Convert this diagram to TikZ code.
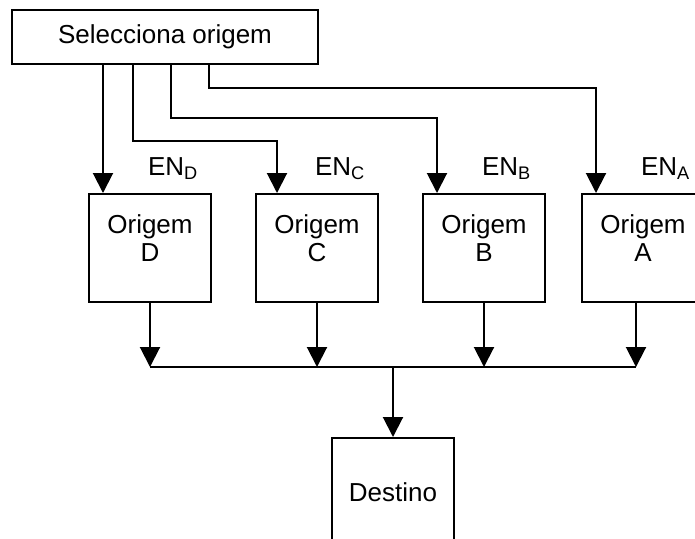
\documentclass[tikz,border=0pt]{standalone}
\usepackage{fontspec}
\setmainfont{Liberation Sans}
\usetikzlibrary{arrows.meta,positioning}

\tikzset{
  caixa/.style={draw, line width=1pt, minimum width=61pt, minimum height=54pt, inner sep=0pt},
  seta/.style={line width=1pt, -{Triangle[length=10pt,width=10pt]}},
  liga/.style={line width=1pt},
  rotulo/.style={font=\fontsize{13}{14}\selectfont, align=center},
}

\begin{document}
\begin{tikzpicture}[x=0.5pt,y=-0.5pt]
  \useasboundingbox (0,0) rectangle (695,538);
  \clip (0,0) rectangle (695,538);
  % bloco de seleccao
  \node[caixa, rotulo, minimum width=153pt, minimum height=27pt] (sel) at (165,37) {Selecciona origem};
  % origens D, C, B, A
  \foreach \n/\x in {d/150,c/317,b/484,a/643}
    \node[caixa, anchor=north] (f\n) at (\x,193) {};
  \foreach \n/\l in {d/D,c/C,b/B,a/A}{
    \node[rotulo, below=7.5pt of f\n.north] (t\n) {Origem\\\l};
    \node[rotulo, anchor=base west] (en\n) at ([shift={(-4.5pt,9pt)}]f\n.north) {EN\textsubscript{\l}};
  }
  \node[caixa, rotulo, anchor=north] (dest) at (393,437) {Destino};

  % sinais de enable
  \draw[seta] ([xshift=46pt]sel.south west) -- ([xshift=46pt]sel.south west |- fd.north);
  \draw[seta] ([xshift=61pt]sel.south west) -- ++(0,76) -| ([xshift=11pt]fc.north west);
  \draw[seta] ([xshift=80pt]sel.south west) -- ++(0,53) -| ([xshift=7.5pt]fb.north west);
  \draw[seta] ([xshift=99pt]sel.south west) -- ++(0,23) -| ([xshift=7.5pt]fa.north west);

  % barramento comum
  \coordinate (bus) at (393,367);
  \foreach \n in {d,c,b}
    \draw[seta] (f\n.south) -- (f\n.south |- bus);
  \draw[seta] ([xshift=27.5pt]fa.south west) -- ([xshift=27.5pt]fa.south west |- bus);
  \draw[liga] (fd.south |- bus) -- ([xshift=27.5pt]fa.south west |- bus);
  \draw[seta] (bus) -- (dest);
\end{tikzpicture}
\end{document}
